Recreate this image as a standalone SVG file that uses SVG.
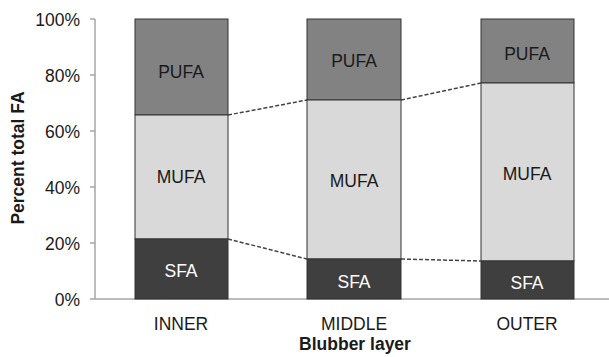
<svg xmlns="http://www.w3.org/2000/svg" width="609" height="357" viewBox="0 0 609 357">
<style>
text{font-family:"Liberation Sans",Arial,sans-serif;font-size:17.5px;fill:#1a1a1a}
.tick{text-anchor:end}
.mid{text-anchor:middle}
.w{fill:#ffffff}
.pufa{fill:#828282;stroke:#333;stroke-width:1}
.mufa{fill:#d9d9d9;stroke:#333;stroke-width:1}
.sfa{fill:#3f3f3f;stroke:#333;stroke-width:1}
.axis{stroke:#a6a6a6;stroke-width:1.5;fill:none}
.dash{stroke:#444;stroke-width:1.5;stroke-dasharray:4 2;fill:none}
.b{font-weight:bold}
</style>
<rect width="609" height="357" fill="#fff"/>
<g id="axes">
<path class="axis" d="M95,19V299H609M90,19H95M90,75H95M90,131H95M90,187H95M90,243H95M90,299H95"/>
<text class="tick" x="80" y="26">100%</text>
<text class="tick" x="80" y="82">80%</text>
<text class="tick" x="80" y="138">60%</text>
<text class="tick" x="80" y="194">40%</text>
<text class="tick" x="80" y="250">20%</text>
<text class="tick" x="80" y="306">0%</text>
<text class="b mid" transform="translate(24,158) rotate(-90)">Percent total FA</text>
<text class="b mid" x="355" y="350">Blubber layer</text>
</g>
<g id="inner">
<rect class="pufa" x="135" y="19" width="93" height="96"/>
<rect class="mufa" x="135" y="115" width="93" height="124"/>
<rect class="sfa" x="135" y="239" width="93" height="60"/>
<text class="mid" x="181" y="78">PUFA</text>
<text class="mid" x="181" y="183">MUFA</text>
<text class="mid w" x="181" y="277">SFA</text>
<text class="mid" x="181" y="330">INNER</text>
</g>
<g id="middle">
<rect class="pufa" x="307" y="19" width="94" height="81"/>
<rect class="mufa" x="307" y="100" width="94" height="159"/>
<rect class="sfa" x="307" y="259" width="94" height="40"/>
<text class="mid" x="354" y="67">PUFA</text>
<text class="mid" x="354" y="187">MUFA</text>
<text class="mid w" x="354" y="288">SFA</text>
<text class="mid" x="354" y="330">MIDDLE</text>
</g>
<g id="outer">
<rect class="pufa" x="481" y="19" width="93" height="64"/>
<rect class="mufa" x="481" y="83" width="93" height="178"/>
<rect class="sfa" x="481" y="261" width="93" height="38"/>
<text class="mid" x="527" y="60">PUFA</text>
<text class="mid" x="527" y="180">MUFA</text>
<text class="mid w" x="527" y="289">SFA</text>
<text class="mid" x="527" y="330">OUTER</text>
</g>
<g id="connectors">
<path class="dash" d="M228,115L307,100M401,100L481,83M228,239L307,259M401,259L481,261"/>
</g>
</svg>
